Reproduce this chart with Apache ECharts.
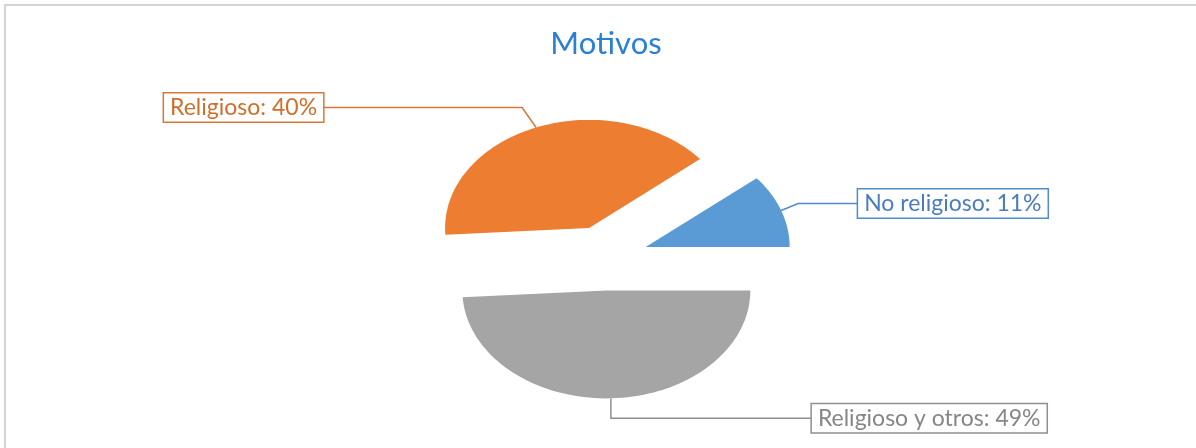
<!DOCTYPE html>
<html>
<head>
<meta charset="utf-8">
<script src="https://cdn.jsdelivr.net/npm/echarts@6/dist/echarts.min.js"></script>
<style>
    html, body { margin: 0; padding: 0; background: #fff; }
    #frame {
        position: absolute; left: 4px; top: 4px; width: 1300px; height: 500px;
        border-top: 2px solid #d5d5d5; border-left: 2px solid #d5d5d5;
    }
    #chartDiv { position: absolute; left: 0; top: 0; width: 1196px; height: 448px; }
</style>
</head>
<body>
<div id="frame"></div>
<div id="chartDiv"></div>
<script>
var categories = ['No religioso', 'Religioso', 'Religioso y otros'];
var values = [11, 40, 49];

var sliceColors = ['#5b9bd5', '#ed7d31', '#a5a5a5'];
var lineColors = ['#4f8ccb', '#d9773a', '#8f8f8f'];
var textColors = ['#4a7cc0', '#cf6f2c', '#868686'];

// label placement, pixels from the point where the leader touches the slice
var labelLayout = [
    { elbow: [17, -7],   box: [77, -7],   align: 'left' },
    { elbow: [-14, -20], box: [-213, -20], align: 'right' },
    { elbow: [0, 20],    box: [201, 20],  align: 'left' }
];

var explode = 0.3;   // fraction of radius
var total = values.reduce(function (a, b) { return a + b; }, 0);

function renderSlice(params, api) {
    var i = params.dataIndex;
    var start = 0;
    for (var j = 0; j < i; j++) start += values[j];
    var a0 = start / total * 2 * Math.PI;
    var a1 = (start + values[i]) / total * 2 * Math.PI;
    var mid = (a0 + a1) / 2;
    var cx = explode * Math.cos(mid), cy = explode * Math.sin(mid);

    var pts = [api.coord([cx, cy])];
    var n = 80;
    for (var k = 0; k <= n; k++) {
        var a = a0 + (a1 - a0) * k / n;
        pts.push(api.coord([cx + Math.cos(a), cy + Math.sin(a)]));
    }

    var anchor = api.coord([cx + Math.cos(mid), cy + Math.sin(mid)]);
    var lay = labelLayout[i];
    var elbow = [anchor[0] + lay.elbow[0], anchor[1] + lay.elbow[1]];
    var boxPt = [anchor[0] + lay.box[0], anchor[1] + lay.box[1]];

    return {
        type: 'group',
        children: [
            {
                type: 'polygon',
                shape: { points: pts },
                style: { fill: sliceColors[i], stroke: null }
            },
            {
                type: 'polyline',
                shape: { points: [anchor, elbow, boxPt] },
                style: { stroke: lineColors[i], lineWidth: 1.5, fill: null }
            },
            {
                type: 'text',
                x: boxPt[0],
                y: boxPt[1],
                style: {
                    text: categories[i] + ': ' + values[i] + '%',
                    fill: textColors[i],
                    font: '23px Lato',
                    lineHeight: 23,
                    align: lay.align,
                    verticalAlign: 'middle',
                    backgroundColor: '#fff',
                    borderColor: lineColors[i],
                    borderWidth: 1.5,
                    padding: [3, 6, 2, 6]
                }
            }
        ]
    };
}

var myChart = echarts.init(document.getElementById('chartDiv'));

var option = {
    backgroundColor: 'transparent',
    animation: false,
    title: {
        text: 'Motivos',
        left: 601,
        top: 23,
        textAlign: 'center',
        textStyle: {
            color: '#2a80d5',
            fontFamily: 'Lato',
            fontWeight: 'normal',
            fontSize: 31
        }
    },
    grid: { left: 317, top: 96, width: 576, height: 324 },
    xAxis: { type: 'value', min: -2, max: 2, show: false },
    yAxis: { type: 'value', min: -1.5, max: 1.5, show: false },
    series: [{
        type: 'custom',
        clip: false,
        renderItem: renderSlice,
        data: values.map(function (v, i) { return [i, v]; })
    }]
};

myChart.setOption(option);
</script>
</body>
</html>
